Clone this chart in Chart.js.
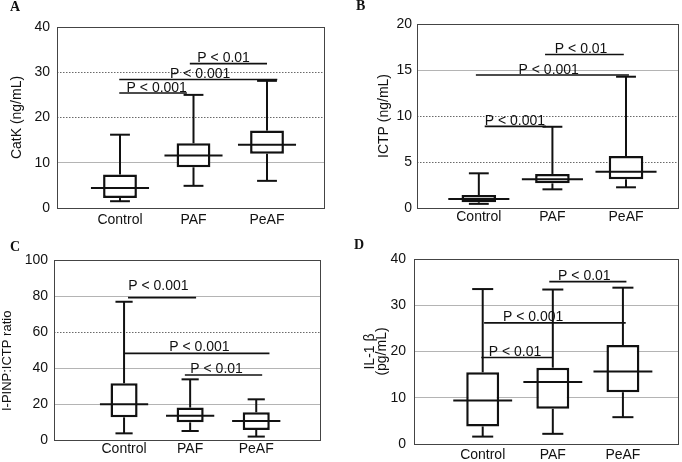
<!DOCTYPE html>
<html>
<head>
<meta charset="utf-8">
<script src="https://cdn.jsdelivr.net/npm/chart.js@4.4.0/dist/chart.umd.min.js"></script>
<style>
  html, body { margin: 0; padding: 0; background: #fff; }
  #wrap { position: relative; width: 682px; height: 462px; }
  .panel { position: absolute; width: 341px; height: 231px; }
</style>
</head>
<body>
<div id="wrap">
  <div class="panel" style="left:0;top:0"><canvas id="chartA" width="341" height="231"></canvas></div>
  <div class="panel" style="left:341px;top:0"><canvas id="chartB" width="341" height="231"></canvas></div>
  <div class="panel" style="left:0;top:231px"><canvas id="chartC" width="341" height="231"></canvas></div>
  <div class="panel" style="left:341px;top:231px"><canvas id="chartD" width="341" height="231"></canvas></div>
</div>
<script>
// groups shown on every panel
const categories = ['Control', 'PAF', 'PeAF'];

// A - CatK (ng/mL): whisker ends, quartiles, medians
const catkLow = [1.5, 4.9, 6.0];
const catkQ1 = [2.2, 9.0, 12.0];
const catkMedian = [4.4, 11.6, 14.0];
const catkQ3 = [7.4, 14.3, 17.1];
const catkHigh = [16.2, 25.0, 28.1];
const catkSigPairs = [[0, 1], [0, 2], [1, 2]];
const catkSigLevels = [25.4, 28.4, 31.9];
const catkSigLabels = ['P < 0.001', 'P < 0.001', 'P < 0.01'];

// B - ICTP (ng/mL)
const ictpLow = [0.45, 2.03, 2.25];
const ictpQ1 = [0.62, 2.68, 3.12];
const ictpMedian = [0.98, 3.12, 3.95];
const ictpQ3 = [1.41, 3.70, 5.65];
const ictpHigh = [3.77, 8.83, 14.27];
const ictpSigPairs = [[0, 1], [0, 2], [1, 2]];
const ictpSigLevels = [8.87, 14.45, 16.68];
const ictpSigLabels = ['P < 0.001', 'P < 0.001', 'P < 0.01'];

// C - I-PINP:ICTP ratio
const ratioLow = [3.7, 5.0, 1.9];
const ratioQ1 = [12.6, 9.8, 5.6];
const ratioMedian = [19.8, 13.5, 10.6];
const ratioQ3 = [31.5, 18.0, 15.4];
const ratioHigh = [76.8, 33.7, 22.6];
const ratioSigPairs = [[0, 1], [0, 2], [1, 2]];
const ratioSigLevels = [79.1, 48.1, 36.1];
const ratioSigLabels = ['P < 0.001', 'P < 0.001', 'P < 0.01'];

// D - IL-1 beta (pg/mL)
const il1Low = [1.6, 2.2, 5.8];
const il1Q1 = [3.8, 7.6, 11.2];
const il1Median = [9.4, 13.4, 15.7];
const il1Q3 = [15.5, 16.5, 21.4];
const il1High = [33.5, 33.4, 33.8];
const il1SigPairs = [[0, 1], [0, 2], [1, 2]];
const il1SigLevels = [18.7, 26.2, 35.1];
const il1SigLabels = ['P < 0.01', 'P < 0.001', 'P < 0.01'];

Chart.defaults.font.family = "'Liberation Sans', Arial, sans-serif";
Chart.defaults.color = '#111';

const INK = '#111';

// draws whiskers, medians, plot frame and significance brackets on top of the boxes
function boxDetailPlugin(p) {
    return {
        id: 'boxDetail' + p.letter,
        afterDatasetsDraw(chart) {
            const { ctx, chartArea: a, scales: { x, y } } = chart;
            const seg = (x1, y1, x2, y2) => {
                ctx.beginPath();
                ctx.moveTo(x1, y1);
                ctx.lineTo(x2, y2);
                ctx.stroke();
            };
            ctx.save();

            // frame round the plot area
            ctx.strokeStyle = '#444';
            ctx.lineWidth = 1;
            ctx.strokeRect(a.left + 0.5, a.top + 0.5, a.right - a.left - 1, a.bottom - a.top);

            ctx.strokeStyle = INK;
            ctx.lineWidth = 2;
            p.median.forEach((m, i) => {
                const xc = x.getPixelForValue(i);
                const capL = x.getPixelForValue(i - p.capFrac / 2);
                const capR = x.getPixelForValue(i + p.capFrac / 2);
                const yHigh = y.getPixelForValue(p.high[i]);
                const yLow = y.getPixelForValue(p.low[i]);
                seg(xc, y.getPixelForValue(p.q3[i]), xc, yHigh);
                seg(capL, yHigh, capR, yHigh);
                seg(xc, y.getPixelForValue(p.q1[i]), xc, yLow);
                seg(capL, yLow, capR, yLow);
                const ym = y.getPixelForValue(m);
                seg(x.getPixelForValue(i - p.medFrac / 2), ym, x.getPixelForValue(i + p.medFrac / 2), ym);
            });

            // significance brackets
            ctx.lineWidth = 1.6;
            ctx.fillStyle = INK;
            ctx.font = "14px 'Liberation Sans', Arial, sans-serif";
            ctx.textAlign = 'center';
            ctx.textBaseline = 'alphabetic';
            p.sigLevels.forEach((lvl, k) => {
                const [from, to] = p.sigPairs[k];
                const ly = y.getPixelForValue(lvl);
                const x1 = x.getPixelForValue(from + p.spanPad[k][0]);
                const x2 = x.getPixelForValue(to + p.spanPad[k][1]);
                seg(x1, ly, x2, ly);
                ctx.fillText(p.sigLabels[k], x.getPixelForValue(p.labelAt[k]), ly - p.labelGap[k]);
            });

            // panel letter
            ctx.font = "bold 14px 'Liberation Serif', 'Times New Roman', serif";
            ctx.textAlign = 'left';
            ctx.fillText(p.letter, p.letterX, p.letterY);
            ctx.restore();
        }
    };
}

function makePanel(canvasId, p) {
    const isDotted = v => p.dotted.includes(v);
    return new Chart(document.getElementById(canvasId), {
        type: 'bar',
        data: {
            datasets: [{
                data: categories.map((c, i) => ({ x: i, y: [p.q1[i], p.q3[i]] })),
                backgroundColor: '#fff',
                borderColor: INK,
                borderWidth: 2.5,
                borderSkipped: false,
                categoryPercentage: 1,
                barPercentage: p.barFrac
            }]
        },
        options: {
            responsive: false,
            animation: false,
            devicePixelRatio: 1,
            layout: { padding: { left: 0, top: p.area.top, right: 341 - p.area.right, bottom: 0 } },
            plugins: { legend: { display: false }, tooltip: { enabled: false } },
            scales: {
                x: {
                    type: 'linear',
                    offset: false,
                    min: p.xMin,
                    max: p.xMax,
                    afterBuildTicks: s => { s.ticks = categories.map((c, i) => ({ value: i })); },
                    afterFit: s => { s.height = 231 - p.area.bottom; },
                    grid: { display: false, drawTicks: false, offset: false },
                    border: { display: false },
                    ticks: {
                        autoSkip: false,
                        maxRotation: 0,
                        padding: p.xTickPad,
                        font: { size: 14 },
                        color: INK,
                        callback: v => categories[v]
                    }
                },
                y: {
                    min: p.yMin,
                    max: p.yMax,
                    afterFit: s => { s.width = p.area.left; },
                    ticks: { stepSize: p.yStep, padding: p.yTickPad, font: { size: 14 }, color: INK },
                    grid: {
                        drawTicks: false,
                        color: c => {
                            const v = c.tick ? c.tick.value : null;
                            if (v === p.yMin || v === p.yMax) return 'rgba(0,0,0,0)';
                            return isDotted(v) ? '#6a6a6a' : '#b4b4b4';
                        },
                        lineWidth: 1
                    },
                    border: {
                        display: false,
                        dash: c => (c.tick && isDotted(c.tick.value)) ? [1.5, 1.5] : []
                    },
                    title: {
                        display: true,
                        text: p.title,
                        color: INK,
                        font: { size: p.titleSize, lineHeight: p.titleLineHeight },
                        padding: { top: p.titlePad, bottom: 0 }
                    }
                }
            }
        },
        plugins: [boxDetailPlugin(p)]
    });
}

makePanel('chartA', {
    letter: 'A', letterX: 10, letterY: 11,
    low: catkLow, q1: catkQ1, median: catkMedian, q3: catkQ3, high: catkHigh,
    sigPairs: catkSigPairs, sigLevels: catkSigLevels, sigLabels: catkSigLabels,
    spanPad: [[-0.01, -0.09], [-0.01, 0.14], [-0.05, 0]],
    labelAt: [0.5, 1.09, 1.41], labelGap: [1.5, 1.5, 1.5],
    area: { left: 57, top: 27, right: 325, bottom: 208 },
    xMin: -0.857, xMax: 2.789, xTickPad: 3.5,
    yMin: 0, yMax: 40, yStep: 10, yTickPad: 7, dotted: [20, 30],
    title: 'CatK (ng/mL)', titleSize: 14, titleLineHeight: 1.2, titlePad: 8.6,
    barFrac: 0.46, medFrac: 0.79, capFrac: 0.27
});

makePanel('chartB', {
    letter: 'B', letterX: 15, letterY: 10,
    low: ictpLow, q1: ictpQ1, median: ictpMedian, q3: ictpQ3, high: ictpHigh,
    sigPairs: ictpSigPairs, sigLevels: ictpSigLevels, sigLabels: ictpSigLabels,
    spanPad: [[0.08, -0.09], [-0.04, 0.04], [-0.1, -0.03]],
    labelAt: [0.49, 0.95, 1.39], labelGap: [1.5, 1.5, 1.5],
    area: { left: 76, top: 24, right: 338, bottom: 208 },
    xMin: -0.84, xMax: 2.72, xTickPad: 0.5,
    yMin: 0, yMax: 20, yStep: 5, yTickPad: 5, dotted: [5, 10],
    title: 'ICTP (ng/mL)', titleSize: 14, titleLineHeight: 1.2, titlePad: 35,
    barFrac: 0.47, medFrac: 0.83, capFrac: 0.27
});

makePanel('chartC', {
    letter: 'C', letterX: 10, letterY: 20,
    low: ratioLow, q1: ratioQ1, median: ratioMedian, q3: ratioQ3, high: ratioHigh,
    sigPairs: ratioSigPairs, sigLevels: ratioSigLevels, sigLabels: ratioSigLabels,
    spanPad: [[0.06, 0.09], [0, 0.2], [-0.08, 0.09]],
    labelAt: [0.52, 1.14, 1.40], labelGap: [8, 2, 2],
    area: { left: 54, top: 29, right: 321, bottom: 209 },
    xMin: -1.06, xMax: 2.98, xTickPad: 1,
    yMin: 0, yMax: 100, yStep: 20, yTickPad: 6, dotted: [60],
    title: 'I-PINP:ICTP ratio      ', titleSize: 13, titleLineHeight: 1.2, titlePad: 0,
    barFrac: 0.41, medFrac: 0.73, capFrac: 0.26
});

makePanel('chartD', {
    letter: 'D', letterX: 13, letterY: 18,
    low: il1Low, q1: il1Q1, median: il1Median, q3: il1Q3, high: il1High,
    sigPairs: il1SigPairs, sigLevels: il1SigLevels, sigLabels: il1SigLabels,
    spanPad: [[-0.02, 0], [0.02, 0.04], [-0.05, 0.05]],
    labelAt: [0.46, 0.72, 1.45], labelGap: [1.5, 1.5, 1.5],
    area: { left: 73, top: 28, right: 338, bottom: 213 },
    xMin: -0.98, xMax: 2.8, xTickPad: 2.5,
    yMin: 0, yMax: 40, yStep: 10, yTickPad: 8, dotted: [],
    title: ['IL-1 β', '(pg/mL)'], titleSize: 14, titleLineHeight: '12px', titlePad: 23,
    barFrac: 0.47, medFrac: 0.84, capFrac: 0.3
});
</script>
</body>
</html>
